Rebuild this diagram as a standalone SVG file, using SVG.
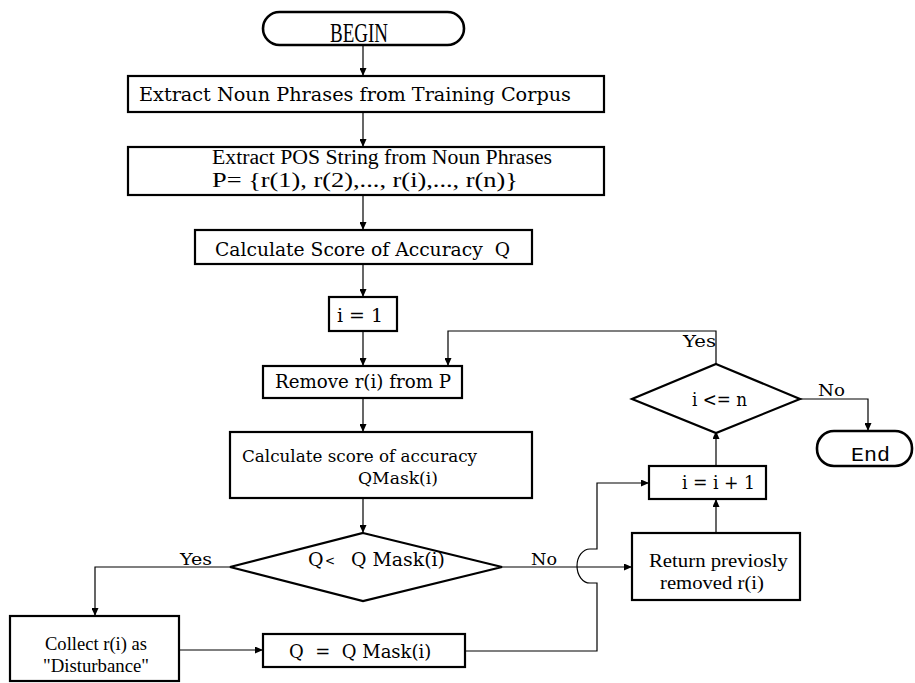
<svg xmlns="http://www.w3.org/2000/svg" width="915" height="683" viewBox="0 0 915 683">
<defs>
<marker id="ah" markerUnits="userSpaceOnUse" markerWidth="8" markerHeight="7" refX="8" refY="3.5" orient="auto">
<path d="M0,0 L8,3.5 L0,7 z" fill="#000"/>
</marker>
<style>
.box{fill:#fff;stroke:#000;stroke-width:2.2}
.term{fill:#fff;stroke:#000;stroke-width:2.6}
.con{fill:none;stroke:#000;stroke-width:1.2}
.arr{marker-end:url(#ah)}
.sb{font-family:"DejaVu Serif","Liberation Serif",serif;fill:#000}
.tm{font-family:"Liberation Serif","Times New Roman",serif;fill:#000}
.mono{font-family:"Liberation Mono","Courier New",monospace;fill:#000}
</style>
</defs>
<rect width="915" height="683" fill="#fff"/>
<g id="connectors">
<path class="con arr" d="M363,45 V76"/>
<path class="con arr" d="M363,112 V147"/>
<path class="con arr" d="M363,195 V230"/>
<path class="con arr" d="M363,264 V297"/>
<path class="con arr" d="M363,331 V366"/>
<path class="con arr" d="M363,398 V432"/>
<path class="con arr" d="M363,498 V533"/>
<path class="con arr" d="M230,567 H95 V616"/>
<path class="con arr" d="M179,650 H263"/>
<path class="con arr" d="M465,651 H597 V583 H590 A13,17 0 0 1 590,549 H597 V483 H649"/>
<path class="con arr" d="M502,567 H632"/>
<path class="con arr" d="M716,533 V499"/>
<path class="con arr" d="M716,466 V431"/>
<path class="con arr" d="M716,364 V331 H448 V366"/>
<path class="con arr" d="M800,399 H868 V431"/>
<text class="sb" x="180" y="565" font-size="17" textLength="32" lengthAdjust="spacingAndGlyphs">Yes</text>
<text class="sb" x="531" y="565" font-size="17" textLength="26" lengthAdjust="spacingAndGlyphs">No</text>
<text class="sb" x="683" y="347" font-size="17" textLength="33" lengthAdjust="spacingAndGlyphs">Yes</text>
<text class="sb" x="818" y="396" font-size="17" textLength="27" lengthAdjust="spacingAndGlyphs">No</text>
</g>
<g id="begin">
<rect class="term" x="263" y="12" width="201" height="33" rx="16.5"/>
<text class="tm" x="330" y="42" font-size="27" textLength="58" lengthAdjust="spacingAndGlyphs">BEGIN</text>
</g>
<g id="extract-np">
<rect class="box" x="128" y="76" width="476" height="36"/>
<text class="sb" x="139" y="101" font-size="18" textLength="432" lengthAdjust="spacingAndGlyphs">Extract Noun Phrases from Training Corpus</text>
</g>
<g id="extract-pos">
<rect class="box" x="128" y="147" width="476" height="48"/>
<text class="tm" x="212" y="164" font-size="20" textLength="340" lengthAdjust="spacingAndGlyphs">Extract POS String from Noun Phrases</text>
<text class="tm" x="212" y="187" font-size="20" textLength="306" lengthAdjust="spacingAndGlyphs">P= {r(1), r(2),..., r(i),..., r(n)}</text>
</g>
<g id="calc-q">
<rect class="box" x="195" y="230" width="337" height="34"/>
<text class="sb" x="215" y="256" font-size="19" textLength="295" lengthAdjust="spacingAndGlyphs" xml:space="preserve">Calculate Score of Accuracy  Q</text>
</g>
<g id="init-i">
<rect class="box" x="329" y="297" width="68" height="34"/>
<text class="sb" x="337" y="322" font-size="19" textLength="46" lengthAdjust="spacingAndGlyphs">i = 1</text>
</g>
<g id="remove">
<rect class="box" x="263" y="366" width="199" height="32"/>
<text class="sb" x="275" y="388" font-size="18" textLength="176" lengthAdjust="spacingAndGlyphs">Remove r(i) from P</text>
</g>
<g id="calc-qmask">
<rect class="box" x="230" y="432" width="302" height="66"/>
<text class="sb" x="242" y="462" font-size="17" textLength="235" lengthAdjust="spacingAndGlyphs">Calculate score of accuracy</text>
<text class="sb" x="358" y="484" font-size="17" textLength="80" lengthAdjust="spacingAndGlyphs">QMask(i)</text>
</g>
<g id="cmp-q">
<polygon class="box" points="363,533 502,567 363,601 230,567"/>
<text class="sb" x="308" y="566" font-size="19">Q<tspan x="325" font-size="12" dy="-1">&lt;</tspan><tspan x="351" dy="1" textLength="94" lengthAdjust="spacingAndGlyphs">Q Mask(i)</tspan></text>
</g>
<g id="collect">
<rect class="box" x="10" y="616" width="169" height="65"/>
<text class="tm" x="96" y="650" font-size="18" text-anchor="middle" textLength="102" lengthAdjust="spacingAndGlyphs">Collect r(i) as</text>
<text class="tm" x="96" y="672" font-size="18" text-anchor="middle" textLength="106" lengthAdjust="spacingAndGlyphs">"Disturbance"</text>
</g>
<g id="assign-q">
<rect class="box" x="263" y="634" width="202" height="33"/>
<text class="sb" x="289" y="658" font-size="18" xml:space="preserve">Q  =  Q Mask(i)</text>
</g>
<g id="return">
<rect class="box" x="632" y="533" width="168" height="67"/>
<text class="tm" x="649" y="567" font-size="19" textLength="139" lengthAdjust="spacingAndGlyphs">Return previosly</text>
<text class="tm" x="660" y="589" font-size="19" textLength="104" lengthAdjust="spacingAndGlyphs">removed r(i)</text>
</g>
<g id="incr-i">
<rect class="box" x="649" y="466" width="117" height="33"/>
<text class="sb" x="682" y="489" font-size="19" textLength="73" lengthAdjust="spacingAndGlyphs">i = i + 1</text>
</g>
<g id="cmp-n">
<polygon class="box" points="716,364 800,399 716,433 632,399"/>
<text class="sb" x="692" y="406" font-size="18" textLength="55" lengthAdjust="spacingAndGlyphs">i &lt;= n</text>
</g>
<g id="end">
<rect class="term" x="817" y="431" width="95" height="35" rx="17"/>
<text class="mono" x="851" y="461" font-size="21" textLength="39" lengthAdjust="spacingAndGlyphs">End</text>
</g>
</svg>
